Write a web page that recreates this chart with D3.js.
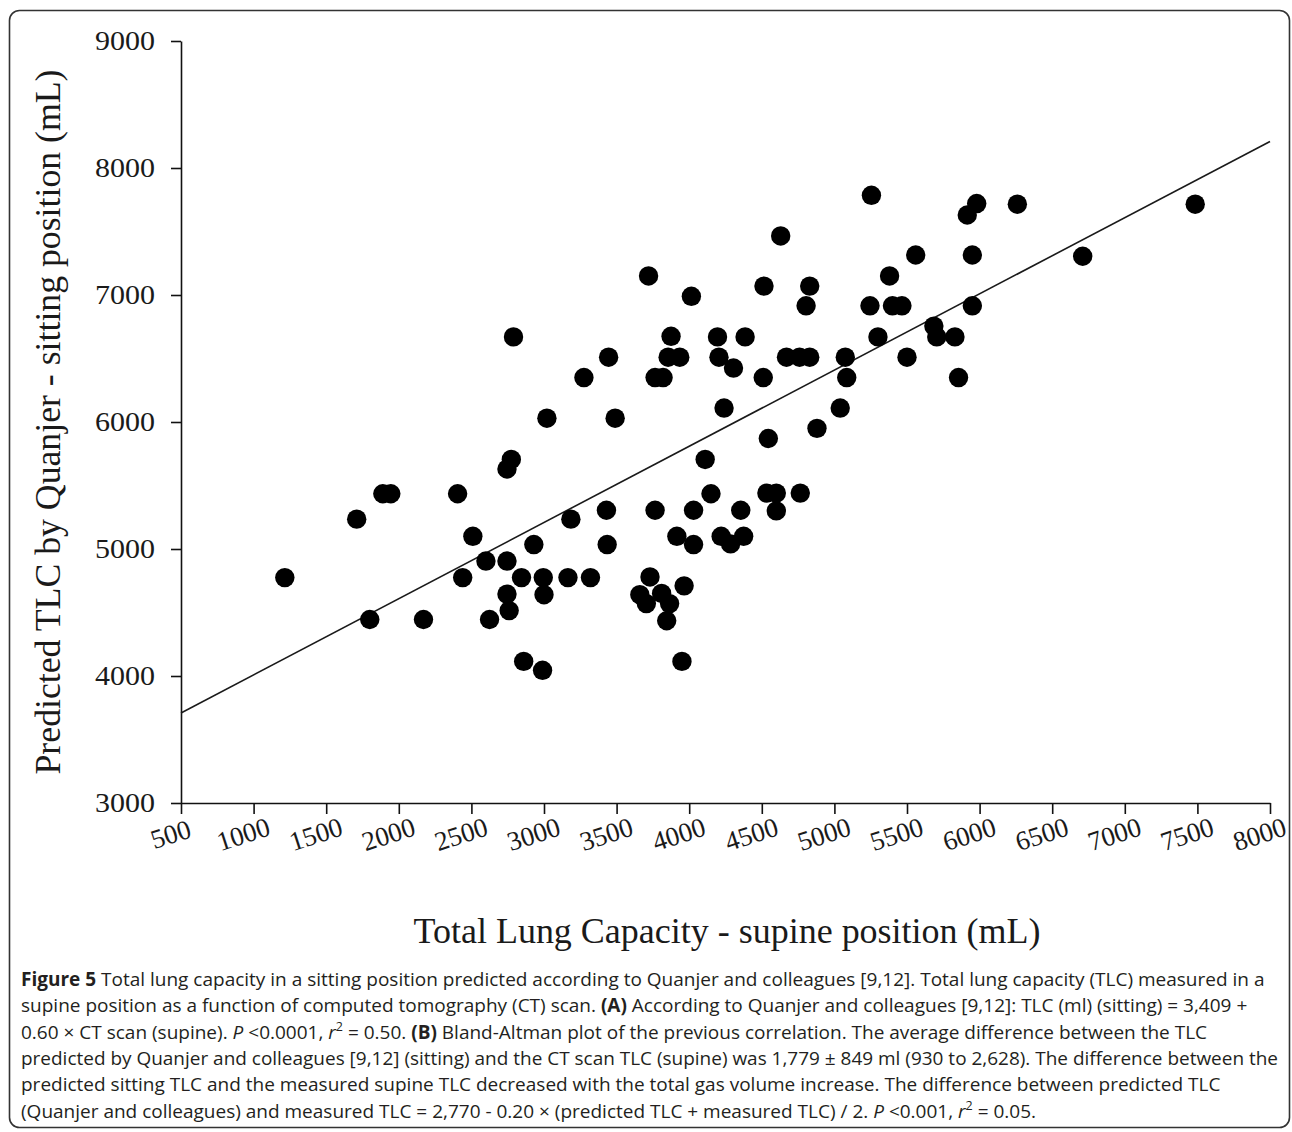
<!DOCTYPE html>
<html>
<head>
<meta charset="utf-8">
<script src="https://cdn.jsdelivr.net/npm/d3@7"></script>
<style>
  html, body { margin: 0; padding: 0; background: #ffffff; }
  svg { display: block; }
</style>
</head>
<body>
<svg id="fig" width="1292" height="1132"></svg>
<script>
// CT-scan TLC (supine) in mL
const supineTLC = [
  1215, 1710, 1800, 1890, 1945, 2170, 2405, 2440, 2510, 2600,
  2625, 2745, 2745, 2760, 2745, 2775, 2790, 2845, 2860, 2930,
  2990, 2995, 3000, 3020, 3165, 3185, 3275, 3320, 3430, 3435,
  3445, 3490, 3660, 3705, 3720, 3730, 3765, 3765, 3820, 3810,
  3845, 3855, 3865, 3875, 3915, 3935, 3950, 3965, 4015, 4030,
  4030, 4110, 4150, 4195, 4205, 4220, 4240, 4285, 4305, 4355,
  4375, 4385, 4510, 4515, 4535, 4545, 4600, 4600, 4630, 4670,
  4760, 4765, 4805, 4830, 4830, 4880, 5040, 5075, 5085, 5245,
  5255, 5300, 5380, 5400, 5465, 5500, 5560, 5685, 5705, 5830,
  5855, 5915, 5950, 5950, 5980, 6260, 6710, 7485
];
// Predicted TLC by Quanjer (sitting) in mL
const sittingTLC = [
  4775, 5235, 4445, 5435, 5435, 4445, 5435, 4775, 5100, 4905,
  4445, 4905, 4645, 4515, 5630, 5705, 6670, 4775, 4115, 5035,
  4045, 4775, 4640, 6030, 4775, 5235, 6350, 4775, 5305, 5035,
  6510, 6030, 4640, 4570, 7150, 4780, 5305, 6350, 6350, 4650,
  4435, 6510, 4570, 6675, 5100, 6510, 4115, 4710, 6990, 5305,
  5035, 5705, 5435, 6670, 6510, 5100, 6110, 5040, 6425, 5305,
  5100, 6670, 6350, 7070, 5440, 5870, 5440, 5300, 7465, 6510,
  6510, 5440, 6915, 7070, 6510, 5950, 6110, 6510, 6350, 6915,
  7785, 6670, 7150, 6915, 6915, 6510, 7315, 6755, 6670, 6670,
  6350, 7630, 7315, 6915, 7720, 7715, 7305, 7715
];

// Regression: TLC (sitting) = 3,409 + 0.60 x CT scan (supine)
const fitIntercept = 3409;
const fitSlope = 0.60;

const xTicks = [500, 1000, 1500, 2000, 2500, 3000, 3500, 4000, 4500, 5000, 5500, 6000, 6500, 7000, 7500, 8000];
const yTicks = [3000, 4000, 5000, 6000, 7000, 8000, 9000];

const xTitle = "Total Lung Capacity - supine position (mL)";
const yTitle = "Predicted TLC by Quanjer - sitting position (mL)";

// caption lines: arrays of [text, style] runs
const captionLines = [
  [["Figure 5", "b"], [" Total lung capacity in a sitting position predicted according to Quanjer and colleagues [9,12]. Total lung capacity (TLC) measured in a", ""]],
  [["supine position as a function of computed tomography (CT) scan. ", ""], ["(A)", "b"], [" According to Quanjer and colleagues [9,12]: TLC (ml) (sitting) = 3,409 +", ""]],
  [["0.60 \u00d7 CT scan (supine). ", ""], ["P", "i"], [" <0.0001, ", ""], ["r", "i"], ["2", "sup"], [" = 0.50. ", ""], ["(B)", "b"], [" Bland-Altman plot of the previous correlation. The average difference between the TLC", ""]],
  [["predicted by Quanjer and colleagues [9,12] (sitting) and the CT scan TLC (supine) was 1,779 \u00b1 849 ml (930 to 2,628). The difference between the", ""]],
  [["predicted sitting TLC and the measured supine TLC decreased with the total gas volume increase. The difference between predicted TLC", ""]],
  [["(Quanjer and colleagues) and measured TLC = 2,770 - 0.20 \u00d7 (predicted TLC + measured TLC) / 2. ", ""], ["P", "i"], [" <0.001, ", ""], ["r", "i"], ["2", "sup"], [" = 0.05.", ""]]
];

const svg = d3.select("#fig");
const serif = "'Liberation Serif', 'Times New Roman', serif";

// figure frame
svg.append("rect")
  .attr("x", 9.5).attr("y", 10.5)
  .attr("width", 1280).attr("height", 1117)
  .attr("rx", 10).attr("ry", 10)
  .attr("fill", "#ffffff")
  .attr("stroke", "#333333").attr("stroke-width", 1.6);

const x = d3.scaleLinear().domain([500, 8000]).range([181, 1270]);
const y = d3.scaleLinear().domain([3000, 9000]).range([803, 41]);

// y axis
const gy = svg.append("g")
  .attr("transform", `translate(${x(500)},0)`)
  .call(d3.axisLeft(y).tickValues(yTicks).tickSize(10).tickSizeOuter(0).tickPadding(16).tickFormat(d3.format("d")));
gy.select(".domain").attr("stroke", "#111").attr("stroke-width", 1.6);
gy.selectAll(".tick line").attr("stroke", "#111").attr("stroke-width", 1.6);
gy.selectAll(".tick text")
  .attr("font-family", serif).attr("font-size", 27).attr("fill", "#1a1a1a")
  .attr("textLength", 60).attr("lengthAdjust", "spacingAndGlyphs");

// x axis
const gx = svg.append("g")
  .attr("transform", `translate(0,${y(3000)})`)
  .call(d3.axisBottom(x).tickValues(xTicks).tickSize(11).tickSizeOuter(0).tickFormat(d3.format("d")));
gx.select(".domain").attr("stroke", "#111").attr("stroke-width", 1.6);
gx.selectAll(".tick line").attr("stroke", "#111").attr("stroke-width", 1.6);
gx.selectAll(".tick text")
  .attr("font-family", serif).attr("font-size", 27).attr("fill", "#1a1a1a")
  .attr("y", 0).attr("dy", 0)
  .attr("text-anchor", "middle")
  .attr("transform", "translate(-8,40) rotate(-18)");

// regression line
svg.append("line")
  .attr("x1", x(500)).attr("y1", y(fitIntercept + fitSlope * 500))
  .attr("x2", x(8000)).attr("y2", y(fitIntercept + fitSlope * 8000))
  .attr("stroke", "#1a1a1a").attr("stroke-width", 1.6);

// observations
const pts = supineTLC.map((v, i) => ({ sx: v, sy: sittingTLC[i] }));
svg.append("g").selectAll("circle").data(pts).join("circle")
  .attr("cx", d => x(d.sx)).attr("cy", d => y(d.sy))
  .attr("r", 9.7).attr("fill", "#000");

// axis titles
svg.append("text")
  .attr("x", 727).attr("y", 943)
  .attr("text-anchor", "middle")
  .attr("font-family", serif).attr("font-size", 35).attr("fill", "#1a1a1a")
  .attr("textLength", 627).attr("lengthAdjust", "spacingAndGlyphs")
  .text(xTitle);

svg.append("text")
  .attr("transform", "translate(60,422) rotate(-90)")
  .attr("text-anchor", "middle")
  .attr("font-family", serif).attr("font-size", 35).attr("fill", "#1a1a1a")
  .attr("textLength", 705).attr("lengthAdjust", "spacingAndGlyphs")
  .text(yTitle);

// caption, kept inside the frame's right margin
const capLeft = 21, capMaxWidth = 1257;
const cap = svg.append("g")
  .attr("font-family", "'Open Sans', sans-serif")
  .attr("font-size", 19).attr("fill", "#231f20");
captionLines.forEach((runs, i) => {
  const t = cap.append("text").attr("x", capLeft).attr("y", 986 + i * 26.3);
  runs.forEach(([s, st]) => {
    const ts = t.append("tspan").text(s);
    if (st === "b") ts.attr("font-weight", 700);
    if (st === "i") ts.attr("font-style", "italic");
    if (st === "sup") ts.attr("font-size", 12.5).attr("baseline-shift", "super");
  });
  const w = t.node().getComputedTextLength();
  if (w > capMaxWidth) t.attr("textLength", capMaxWidth).attr("lengthAdjust", "spacingAndGlyphs");
});
</script>
</body>
</html>
